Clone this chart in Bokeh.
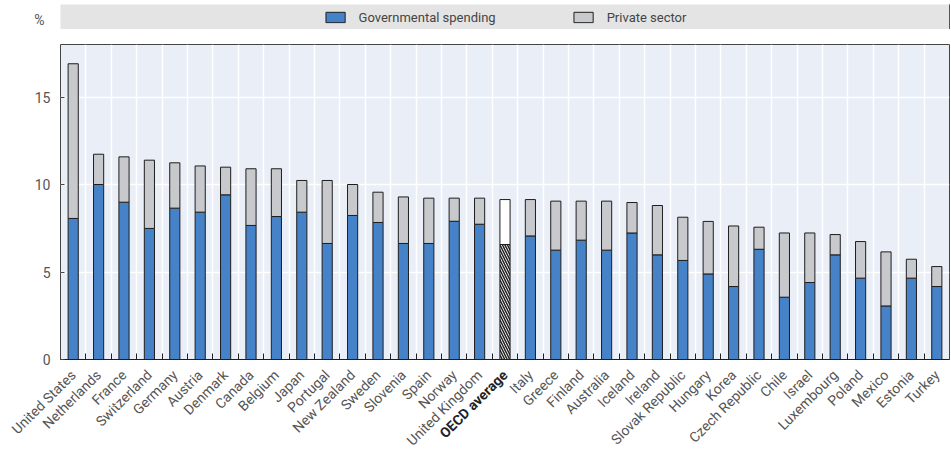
import numpy as np
from math import pi
from bokeh.plotting import figure
from bokeh.models import ColumnDataSource, FixedTicker, Range1d, Legend, LegendItem
from bokeh.layouts import column
from bokeh.transform import stack
from bokeh.core.properties import value
from bokeh.embed import file_html
from bokeh.resources import INLINE

countries = ["United States", "Netherlands", "France", "Switzerland", "Germany", "Austria",
             "Denmark", "Canada", "Belgium", "Japan", "Portugal", "New Zealand", "Sweden",
             "Slovenia", "Spain", "Norway", "United Kingdom", "OECD average", "Italy", "Greece",
             "Finland", "Australia", "Iceland", "Ireland", "Slovak Republic", "Hungary", "Korea",
             "Czech Republic", "Chile", "Israel", "Luxembourg", "Poland", "Mexico", "Estonia", "Turkey"]
government = [8.06, 10.0, 8.99, 7.49, 8.65, 8.42, 9.41, 7.66, 8.17, 8.42, 6.63, 8.23, 7.83,
              6.63, 6.63, 7.90, 7.73, 6.57, 7.06, 6.25, 6.82, 6.25, 7.23, 5.98, 5.66, 4.89, 4.17,
              6.30, 3.56, 4.40, 5.98, 4.65, 3.06, 4.65, 4.17]
private = [8.84, 1.73, 2.59, 3.90, 2.59, 2.64, 1.58, 3.24, 2.73, 1.81, 3.60, 1.77, 1.73,
           2.66, 2.59, 1.32, 1.49, 2.57, 2.08, 2.80, 2.23, 2.80, 1.74, 2.82, 2.47, 3.00, 3.46,
           1.26, 3.67, 2.83, 1.16, 2.09, 3.09, 1.08, 1.14]
y_ticks = [0, 5, 10, 15]
average_name = "OECD average"
unit_label = "%"

BLUE = "#4682c8"
GREY = "#c8c9cc"
OUT = "#1e1e1e"
BG = "#e9eef7"
BAND = "#e4e4e4"
FONT = "Roboto"
TXT = "#555555"

W = 951
LEFT = 60
RIGHT = 2
n = len(countries)
xpos = np.arange(n) + 0.5
is_avg = [c == average_name for c in countries]
src = ColumnDataSource(dict(
    x=xpos, gov=government, priv=private, name=countries,
    gov_fill=["white" if a else BLUE for a in is_avg],
    priv_fill=["white" if a else GREY for a in is_avg],
    gov_hatch=["left_diagonal_line" if a else "blank" for a in is_avg],
    style=["bold" if a else "normal" for a in is_avg],
    color=["#222222" if a else TXT for a in is_avg],
))

# ---- legend band figure
top = figure(width=W, height=29, x_range=Range1d(0, 1), y_range=Range1d(0, 1),
             output_backend="svg", toolbar_location=None, x_axis_location=None,
             min_border_left=LEFT, min_border_right=RIGHT, min_border_top=4, min_border_bottom=0)
top.background_fill_color = BAND
top.outline_line_color = None
top.grid.grid_line_color = None
r1 = top.vbar(x=[5], top=[1], width=0.4, fill_color=BLUE, line_color=OUT)
r2 = top.vbar(x=[5], top=[1], width=0.4, fill_color=GREY, line_color=OUT)
leg = Legend(items=[LegendItem(label="Governmental spending", renderers=[r1]),
                    LegendItem(label="Private sector", renderers=[r2])],
             location="center", orientation="horizontal",
             glyph_width=24, glyph_height=13, label_standoff=12, spacing=75,
             padding=0, margin=0, background_fill_alpha=0, border_line_color=None,
             label_text_font=FONT, label_text_font_size="13px", label_text_color="#444444")
top.add_layout(leg, "center")
ty = top.yaxis[0]
ty.ticker = FixedTicker(ticks=[0.25])
ty.major_label_overrides = {0.25: unit_label}
ty.axis_line_color = None
ty.major_tick_line_color = None
ty.minor_tick_line_color = None
ty.major_label_standoff = 10
ty.major_label_text_font = FONT
ty.major_label_text_font_size = "14px"
ty.major_label_text_color = TXT

# ---- main chart
p = figure(width=W, height=338, x_range=Range1d(0, n), y_range=Range1d(0, 18),
           output_backend="svg", toolbar_location=None,
           min_border_left=LEFT, min_border_right=RIGHT, min_border_top=15, min_border_bottom=8)
p.background_fill_color = BG
p.outline_line_color = "#444444"

p.vbar(x="x", bottom=0, top="gov", width=0.4, source=src, fill_color="gov_fill",
       line_color=OUT, line_width=1, hatch_pattern="gov_hatch", hatch_color="#222222",
       hatch_scale=5, hatch_weight=1.5)
p.vbar(x="x", bottom=stack("gov"), top=stack("gov", "priv"), width=0.4, source=src,
       fill_color="priv_fill", line_color=OUT, line_width=1)

xax = p.xaxis[0]
xax.ticker = FixedTicker(ticks=[], minor_ticks=list(np.arange(1, n)))
xax.major_tick_in = 0
xax.major_tick_out = 0
xax.minor_tick_in = 6
xax.minor_tick_out = 0
xax.minor_tick_line_color = OUT
xax.axis_line_color = OUT

yax = p.yaxis[0]
yax.ticker = FixedTicker(ticks=y_ticks)
yax.axis_line_color = None
yax.major_tick_in = 4
yax.major_tick_out = 0
yax.minor_tick_line_color = None
yax.major_tick_line_color = "#444444"
yax.major_label_standoff = 10
yax.major_label_text_font = FONT
yax.major_label_text_font_size = "14px"
yax.major_label_text_color = TXT

p.xgrid.grid_line_color = None
p.xgrid.minor_grid_line_color = "white"
p.xgrid.minor_grid_line_width = 1.5
p.ygrid.grid_line_color = "white"
p.ygrid.grid_line_width = 1.5

# ---- category labels (rotated), sharing the chart's x scale
px_per = (W - LEFT - RIGHT) / n
lab = figure(width=W, height=84, x_range=Range1d(-LEFT / px_per, n), y_range=Range1d(0, 1),
             output_backend="svg", toolbar_location=None,
             x_axis_location=None, y_axis_location=None, frame_align=False,
             min_border_left=0, min_border_right=RIGHT, min_border_top=0, min_border_bottom=0)
lab.outline_line_color = None
lab.grid.grid_line_color = None
lab.text(x="x", y=1, text="name", source=src, angle=pi / 4, x_offset=0, y_offset=5,
         text_align="right", text_baseline="middle", text_font=value(FONT),
         text_font_size="14px", text_font_style="style", text_color="color")

layout = column(top, p, lab)
open("out.html", "w").write(file_html(layout, INLINE))
